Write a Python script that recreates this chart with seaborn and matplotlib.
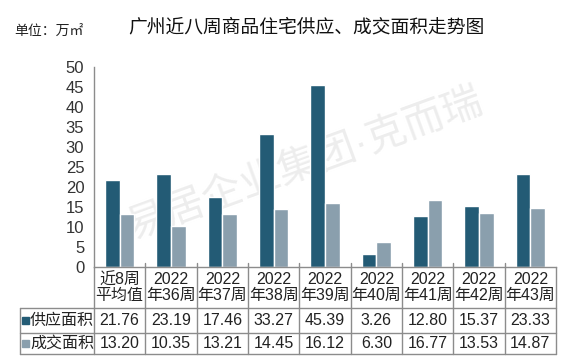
import numpy as np
import pandas as pd
import matplotlib
matplotlib.use("Agg")
import matplotlib.pyplot as plt
from matplotlib.patches import Rectangle
import seaborn as sns

# data
weeks = ["近8周\n平均值", "2022\n年36周", "2022\n年37周", "2022\n年38周", "2022\n年39周",
         "2022\n年40周", "2022\n年41周", "2022\n年42周", "2022\n年43周"]
supply = [21.76, 23.19, 17.46, 33.27, 45.39, 3.26, 12.80, 15.37, 23.33]
deal = [13.20, 10.35, 13.21, 14.45, 16.12, 6.30, 16.77, 13.53, 14.87]
series = ["供应面积", "成交面积"]
colors = ["#235b75", "#8a9fad"]

df = pd.DataFrame({
    "week": weeks * 2,
    "area": supply + deal,
    "kind": [series[0]] * len(weeks) + [series[1]] * len(weeks),
})

sns.set_theme(style="white")
plt.rcParams["font.family"] = ["Liberation Sans", "Noto Sans CJK SC", "DejaVu Sans"]

fig = plt.figure(figsize=(5.65, 3.6), dpi=100)
ax = fig.add_axes([94 / 565, 1 - 267 / 360, 462 / 565, 200 / 360])

# faint watermark, behind the axes
fig.text(128 / 565, 1 - 228 / 360, "易居企业集团·克而瑞", fontsize=29, color="#ededed",
         rotation=20, rotation_mode="anchor", ha="left", va="center", zorder=-1)

sns.barplot(data=df, x="week", y="area", hue="kind", palette=colors, width=0.57,
            saturation=1, ax=ax, legend=False, zorder=2)
ax.patch.set_alpha(0)

ax.set_ylim(0, 50)
ax.set_xlim(-0.5, len(weeks) - 0.5)
ax.set_yticks(range(0, 51, 5))
ax.tick_params(axis="y", labelsize=12, colors="#333333", length=0, pad=7)
ax.set_xticks([])
ax.set_xlabel("")
ax.set_ylabel("")
for s in ["top", "right"]:
    ax.spines[s].set_visible(False)
for s in ["left", "bottom"]:
    ax.spines[s].set_color("#8c8c8c")
    ax.spines[s].set_linewidth(1)

# data table under the axis
lc = "#8c8c8c"
n = len(weeks)
x0 = -74 / 462
rows_y = [0, -41 / 200, -66 / 200, -87 / 200]
kw = dict(transform=ax.transAxes, color=lc, lw=1, clip_on=False)
for i in range(n + 1):
    xi = i / n
    ax.plot([xi, xi], [0.02 if 0 < i < n else 0, rows_y[-1]], **kw)
ax.plot([x0, x0], [rows_y[1], rows_y[-1]], **kw)
for y in rows_y[1:]:
    ax.plot([x0, 1], [y, y], **kw)

for i, w in enumerate(weeks):
    xc = (i + 0.5) / n
    ax.text(xc, (rows_y[0] + rows_y[1]) / 2, w, transform=ax.transAxes, ha="center",
            va="center", fontsize=11.5, color="#222222", linespacing=1.0)
    for r, vals in enumerate([supply, deal]):
        ax.text(xc, (rows_y[r + 1] + rows_y[r + 2]) / 2, f"{vals[i]:.2f}",
                transform=ax.transAxes, ha="center", va="center", fontsize=11.5,
                color="#222222")

for r, name in enumerate(series):
    yc = (rows_y[r + 1] + rows_y[r + 2]) / 2
    ax.add_patch(Rectangle((x0 + 2 / 462, yc - 3.5 / 200), 7 / 462, 7 / 200,
                           transform=ax.transAxes, color=colors[r], clip_on=False))
    ax.text(x0 + 10 / 462, yc, name, transform=ax.transAxes, ha="left", va="center",
            fontsize=11.5, color="#222222")

fig.text(14 / 565, 1 - 31 / 360, "单位：万㎡", fontsize=10, color="#222222",
         ha="left", va="center")
fig.text(306 / 565, 1 - 28 / 360, "广州近八周商品住宅供应、成交面积走势图", fontsize=13.5,
         color="#111111", ha="center", va="center")

fig.savefig("out.png", dpi=100)
